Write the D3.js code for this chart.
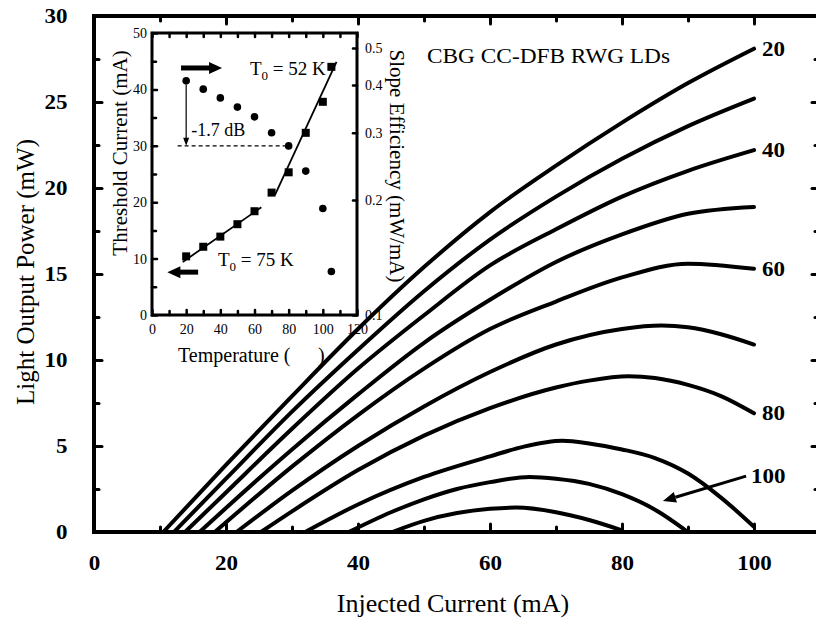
<!DOCTYPE html>
<html>
<head>
<meta charset="utf-8" />
<style>
	body {
		margin: 0;
		background-color: #fff;
	}
	svg {
		display: block;
		font-family: 'Liberation Serif', 'Times New Roman', serif;
	}
	.tick line {
		stroke: #000;
		stroke-linecap: round;
	}
</style>
</head>
<body>
<svg id="chart" width="816" height="626"></svg>

<script src="https://cdn.jsdelivr.net/npm/d3@7/dist/d3.min.js"></script>
<script>
	// L-I curves, [current mA, power mW], one per heat sink temperature
	const li20 = [[10.5, 0], [20, 3.9], [30, 7.9], [40, 11.8], [50, 15.4], [60, 18.6], [70, 21.3], [80, 23.8], [90, 26.1], [100, 28.1]];
	const li30 = [[12.1, 0], [20, 3.1], [30, 7.0], [40, 10.6], [50, 14.0], [60, 17.0], [70, 19.5], [80, 21.7], [90, 23.6], [100, 25.2]];
	const li40 = [[13.8, 0], [20, 2.3], [30, 6.0], [40, 9.5], [50, 12.6], [60, 15.5], [70, 17.6], [80, 19.5], [90, 21.0], [100, 22.2]];
	const li50 = [[16, 0], [20, 1.4], [30, 4.8], [40, 8.0], [50, 11.0], [60, 13.5], [70, 15.7], [80, 17.3], [90, 18.5], [100, 18.9]];
	const li60 = [[18.3, 0], [30, 3.8], [40, 6.8], [50, 9.5], [60, 11.8], [70, 13.4], [80, 14.8], [90, 15.6], [100, 15.3]];
	const li70 = [[21.6, 0], [30, 2.4], [40, 5.0], [50, 7.3], [60, 9.3], [70, 10.9], [80, 11.8], [86, 12.0], [90, 11.9], [95, 11.5], [100, 10.9]];
	const li80 = [[25.3, 0], [30, 1.2], [40, 3.6], [50, 5.6], [60, 7.2], [70, 8.4], [75, 8.8], [81, 9.05], [85, 8.95], [90, 8.55], [95, 7.9], [100, 6.9]];
	const li90 = [[32.0, 0], [40, 1.6], [50, 3.2], [60, 4.4], [65, 4.95], [71, 5.3], [75, 5.15], [80, 4.8], [85, 4.3], [90, 3.4], [95, 2.0], [100, 0.3]];
	const li100 = [[38.6, 0], [45, 1.15], [50, 1.9], [55, 2.5], [60, 2.9], [66, 3.2], [70, 3.1], [75, 2.8], [80, 2.2], [85, 1.3], [90, 0]];
	const li105 = [[45.2, 0], [50, 0.65], [55, 1.1], [60, 1.35], [64, 1.42], [70, 1.15], [75, 0.7], [80, 0.1]];
	const curves = [li20, li30, li40, li50, li60, li70, li80, li90, li100, li105];

	// temperature labels written at the end of some curves
	const endLabels = [['20', li20], ['40', li40], ['60', li60], ['80', li80]];
	// "100" label with its arrow: [tail current, tail power], [tip current, tip power]
	const arrow100 = [[98.8, 3.25], [86.2, 1.8]];

	// inset: temperature (C), threshold current (mA), slope efficiency (mW/mA)
	const tempC = [20, 30, 40, 50, 60, 70, 80, 90, 100, 105];
	const ithr = [10.4, 12.1, 13.9, 16.1, 18.4, 21.7, 25.3, 32.3, 37.8, 44.0];
	const slope = [0.41, 0.39, 0.37, 0.35, 0.33, 0.30, 0.277, 0.238, 0.19, 0.13];
	const fitLow = [[18, 9.4], [64, 19.1]];
	const fitHigh = [[72, 21.3], [108, 44.9]];

	const svg = d3.select('#chart');

	// ---------- main chart ----------
	const x = d3.scaleLinear().domain([0, 110]).range([94, 820]);
	const y = d3.scaleLinear().domain([0, 30]).range([532, 16]);

	function stretch(sel, sx) {
		sel.selectAll('text').attr('transform', `scale(${sx},1)`);
	}

	// ticks (inward), majors then minors
	const xMaj = d3.range(0, 111, 20), xMin = d3.range(10, 111, 20);
	const yMaj = d3.range(0, 31, 5), yMin = d3.range(2.5, 30, 5);

	const gb = svg.append('g').attr('transform', `translate(0,${y(0)})`)
		.call(d3.axisBottom(x).tickValues(xMaj.filter(d => d <= 100)).tickSize(-8).tickPadding(24))
		.call(g => g.select('.domain').remove());
	gb.selectAll('.tick line').attr('stroke-width', 3);
	gb.selectAll('text').attr('font-size', 20).attr('font-weight', 'bold')
		.attr('font-family', 'Liberation Serif, serif').attr('fill', '#000');
	stretch(gb, 1.15);

	svg.append('g').attr('transform', `translate(0,${y(0)})`)
		.call(d3.axisBottom(x).tickValues(xMin).tickSize(-5).tickFormat(''))
		.call(g => g.select('.domain').remove())
		.selectAll('.tick line').attr('stroke-width', 3);

	[[xMaj, -8], [xMin, -5]].forEach(([vals, size]) => {
		svg.append('g').attr('transform', `translate(0,${y(30)})`)
			.call(d3.axisTop(x).tickValues(vals).tickSize(size).tickFormat(''))
			.call(g => g.select('.domain').remove())
			.selectAll('.tick line').attr('stroke-width', 3);
	});

	const gl = svg.append('g').attr('transform', `translate(${x(0)},0)`)
		.call(d3.axisLeft(y).tickValues(yMaj).tickSize(-8).tickPadding(23))
		.call(g => g.select('.domain').remove());
	gl.selectAll('.tick line').attr('stroke-width', 3);
	gl.selectAll('text').attr('font-size', 20).attr('font-weight', 'bold')
		.attr('font-family', 'Liberation Serif, serif').attr('fill', '#000');
	stretch(gl, 1.15);

	[[yMaj, -8], [yMin, -5]].forEach(([vals, size]) => {
		if (size === -5) {
			svg.append('g').attr('transform', `translate(${x(0)},0)`)
				.call(d3.axisLeft(y).tickValues(vals).tickSize(size).tickFormat(''))
				.call(g => g.select('.domain').remove())
				.selectAll('.tick line').attr('stroke-width', 3);
		}
		svg.append('g').attr('transform', `translate(${x(110)},0)`)
			.call(d3.axisRight(y).tickValues(vals).tickSize(size).tickFormat(''))
			.call(g => g.select('.domain').remove())
			.selectAll('.tick line').attr('stroke-width', 3);
	});

	// frame
	svg.append('rect')
		.attr('x', x(0)).attr('y', y(30))
		.attr('width', x(110) - x(0)).attr('height', y(0) - y(30))
		.attr('fill', 'none').attr('stroke', '#000').attr('stroke-width', 4);

	// curves
	const line = d3.line().x(d => x(d[0])).y(d => y(d[1])).curve(d3.curveMonotoneX);
	svg.append('g').selectAll('path').data(curves).join('path')
		.attr('d', line)
		.attr('fill', 'none').attr('stroke', '#000').attr('stroke-width', 4)
		.attr('stroke-linejoin', 'round').attr('stroke-linecap', 'round');

	svg.append('g').selectAll('text').data(endLabels).join('text')
		.attr('transform', d => {
			const last = d[1][d[1].length - 1];
			return `translate(${x(last[0]) + 8},${y(last[1]) + 7}) scale(1.15,1)`;
		})
		.attr('font-size', 20).attr('font-weight', 'bold')
		.text(d => d[0]);

	// "100" label and arrow
	const [tail, tip] = arrow100;
	const ang = Math.atan2(y(tip[1]) - y(tail[1]), x(tip[0]) - x(tail[0]));
	const hl = 13, hw = 5.5;
	const bx = x(tip[0]) - hl * Math.cos(ang), by = y(tip[1]) - hl * Math.sin(ang);
	svg.append('line')
		.attr('x1', x(tail[0])).attr('y1', y(tail[1])).attr('x2', bx).attr('y2', by)
		.attr('stroke', '#000').attr('stroke-width', 3);
	svg.append('path')
		.attr('d', `M${x(tip[0])},${y(tip[1])}L${bx + hw * Math.sin(ang)},${by - hw * Math.cos(ang)}L${bx - hw * Math.sin(ang)},${by + hw * Math.cos(ang)}Z`)
		.attr('fill', '#000');
	svg.append('text')
		.attr('transform', `translate(${x(tail[0]) + 5},${y(tail[1]) + 7}) scale(1.15,1)`)
		.attr('font-size', 20).attr('font-weight', 'bold').text('100');

	// titles
	svg.append('text')
		.attr('transform', `translate(34,272) rotate(-90)`)
		.attr('text-anchor', 'middle').attr('font-size', 25)
		.text('Light Output Power (mW)');
	svg.append('text')
		.attr('x', 453).attr('y', 612)
		.attr('text-anchor', 'middle').attr('font-size', 26)
		.text('Injected Current (mA)');
	svg.append('text')
		.attr('x', 427).attr('y', 63)
		.attr('font-size', 22)
		.attr('textLength', 243).attr('lengthAdjust', 'spacingAndGlyphs')
		.text('CBG CC-DFB RWG LDs');

	// ---------- inset ----------
	const xi = d3.scaleLinear().domain([0, 120]).range([152, 357]);
	const yi = d3.scaleLinear().domain([0, 50]).range([315, 33]);
	const ys = d3.scaleLog().domain([0.1, 0.547]).range([315, 33]);

	const inset = svg.append('g');
	inset.append('rect')
		.attr('x', xi(0)).attr('y', yi(50))
		.attr('width', xi(120) - xi(0)).attr('height', yi(0) - yi(50))
		.attr('fill', '#fff');

	const ib = inset.append('g').attr('transform', `translate(0,${yi(0)})`)
		.call(d3.axisBottom(xi).tickValues(d3.range(0, 121, 20)).tickSize(-5).tickPadding(9))
		.call(g => g.select('.domain').remove());
	ib.selectAll('text').attr('font-size', 14).attr('font-family', 'Liberation Serif, serif').attr('fill', '#000');
	inset.append('g').attr('transform', `translate(0,${yi(0)})`)
		.call(d3.axisBottom(xi).tickValues(d3.range(10, 120, 20)).tickSize(-4).tickFormat(''))
		.call(g => g.select('.domain').remove());
	inset.append('g').attr('transform', `translate(0,${yi(50)})`)
		.call(d3.axisTop(xi).tickValues(d3.range(0, 121, 10)).tickSize(-4).tickFormat(''))
		.call(g => g.select('.domain').remove());

	const il = inset.append('g').attr('transform', `translate(${xi(0)},0)`)
		.call(d3.axisLeft(yi).tickValues(d3.range(0, 51, 10)).tickSize(-5).tickPadding(5))
		.call(g => g.select('.domain').remove());
	il.selectAll('text').attr('font-size', 14).attr('font-family', 'Liberation Serif, serif').attr('fill', '#000');
	inset.append('g').attr('transform', `translate(${xi(0)},0)`)
		.call(d3.axisLeft(yi).tickValues(d3.range(5, 50, 10)).tickSize(-4).tickFormat(''))
		.call(g => g.select('.domain').remove());

	const ir = inset.append('g').attr('transform', `translate(${xi(120)},0)`)
		.call(d3.axisRight(ys).tickValues([0.1, 0.2, 0.3, 0.4, 0.5]).tickSize(-4).tickPadding(8).tickFormat(d3.format('.1f')))
		.call(g => g.select('.domain').remove());
	ir.selectAll('text').attr('font-size', 14).attr('font-family', 'Liberation Serif, serif').attr('fill', '#000');
	inset.selectAll('.tick line').attr('stroke-width', 2.5);

	inset.append('rect')
		.attr('x', xi(0)).attr('y', yi(50))
		.attr('width', xi(120) - xi(0)).attr('height', yi(0) - yi(50))
		.attr('fill', 'none').attr('stroke', '#000').attr('stroke-width', 3);

	// fits
	[fitLow, fitHigh].forEach(f => {
		inset.append('line')
			.attr('x1', xi(f[0][0])).attr('y1', yi(f[0][1]))
			.attr('x2', xi(f[1][0])).attr('y2', yi(f[1][1]))
			.attr('stroke', '#000').attr('stroke-width', 1.8);
	});

	// threshold squares
	inset.append('g').selectAll('rect').data(tempC).join('rect')
		.attr('x', (d, i) => xi(d) - 4).attr('y', (d, i) => yi(ithr[i]) - 4)
		.attr('width', 8).attr('height', 8).attr('fill', '#000');

	// slope efficiency dots
	inset.append('g').selectAll('circle').data(tempC).join('circle')
		.attr('cx', d => xi(d)).attr('cy', (d, i) => ys(slope[i]))
		.attr('r', 3.8).attr('fill', '#000');

	// -1.7 dB marker
	inset.append('line')
		.attr('x1', xi(15)).attr('x2', xi(79)).attr('y1', yi(30)).attr('y2', yi(30))
		.attr('stroke', '#000').attr('stroke-width', 1.2).attr('stroke-dasharray', '4,3');
	inset.append('line')
		.attr('x1', xi(20)).attr('x2', xi(20)).attr('y1', ys(slope[0]) + 4).attr('y2', yi(30) - 6)
		.attr('stroke', '#000').attr('stroke-width', 1.2);
	inset.append('path')
		.attr('d', `M${xi(20)},${yi(30)}l-3,-8l6,0Z`).attr('fill', '#000');
	inset.append('text').attr('x', xi(23)).attr('y', 136).attr('font-size', 18).text('-1.7 dB');

	// bold direction arrows
	function bigArrow(t0, t1, v) {
		const dir = Math.sign(t1 - t0);
		const x0 = xi(t0), x1 = xi(t1), yy = yi(v);
		inset.append('line')
			.attr('x1', x0).attr('x2', x1 - dir * 10).attr('y1', yy).attr('y2', yy)
			.attr('stroke', '#000').attr('stroke-width', 5);
		inset.append('path')
			.attr('d', `M${x1},${yy}L${x1 - dir * 13},${yy - 6}L${x1 - dir * 13},${yy + 6}Z`)
			.attr('fill', '#000');
	}
	bigArrow(17, 41, 43.8);
	bigArrow(27, 9, 7.6);

	function t0Label(px, py, val) {
		const t = inset.append('text').attr('x', px).attr('y', py).attr('font-size', 19);
		t.append('tspan').text('T');
		t.append('tspan').attr('font-size', 13).attr('dy', 5).text('0');
		t.append('tspan').attr('dy', -5).text(` = ${val} K`);
	}
	t0Label(250, 75, 52);
	t0Label(218, 266, 75);

	// inset titles
	inset.append('text')
		.attr('transform', `translate(127,153) rotate(-90)`)
		.attr('text-anchor', 'middle').attr('font-size', 21)
		.text('Threshold Current (mA)');
	inset.append('text')
		.attr('transform', `translate(390,166) rotate(90)`)
		.attr('text-anchor', 'middle').attr('font-size', 21)
		.text('Slope Efficiency (mW/mA)');
	inset.append('text').attr('x', 178).attr('y', 362).attr('font-size', 20).text('Temperature (');
	inset.append('text').attr('x', 318).attr('y', 362).attr('font-size', 20).text(')');
</script>
</body>
</html>
